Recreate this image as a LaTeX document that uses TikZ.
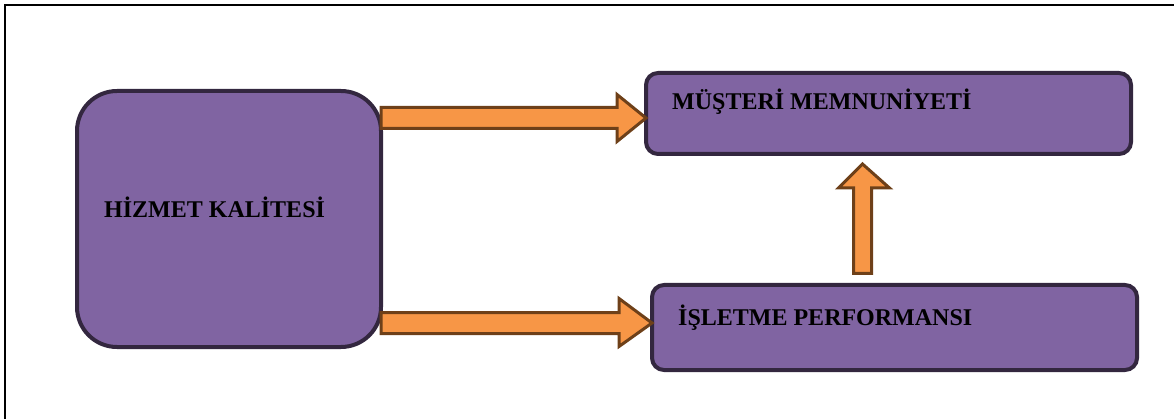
\documentclass[tikz,border=0pt]{standalone}
\usepackage{fontspec}
\setmainfont{Liberation Serif}
\definecolor{boxfill}{HTML}{8064A2}
\definecolor{boxline}{HTML}{33273F}
\definecolor{arrfill}{HTML}{F79646}
\definecolor{arrline}{HTML}{6E4019}
\tikzset{
  box/.style={draw=boxline, fill=boxfill, line width=4pt, inner sep=0pt, outer sep=0pt},
  blockarrow/.style={draw=arrline, fill=arrfill, line width=3pt, line join=miter},
  lbl/.style={font=\fontsize{24}{28}\selectfont\bfseries, inner sep=0pt, anchor=base west},
}
\begin{document}
\begin{tikzpicture}[x=1pt,y=-1pt]
\useasboundingbox (0,0) rectangle (1174,419);
% frame
\draw[line width=2pt] (4.5,419) coordinate (f1) -- (4.5,5.5) coordinate (f2) -- (1174,5.5) coordinate (f3);
% boxes
\node[box, rounded corners=40pt, minimum width=304pt, minimum height=256pt, anchor=north west] (hk) at (77,91) {};
\node[box, rounded corners=12pt, minimum width=485pt, minimum height=81pt, anchor=north west] (mm) at (646,73) {};
\node[box, rounded corners=12pt, minimum width=485pt, minimum height=85pt, anchor=north west] (ip) at (652,285) {};
% labels
\node[lbl] (t1) at (104,218) {HİZMET KALİTESİ};
\node[lbl] (t2) at (672,110) {MÜŞTERİ MEMNUNİYETİ};
\node[lbl] (t3) at (678,325) {İŞLETME PERFORMANSI};
% arrows
\draw[blockarrow] (hk.east |- 0,107.5) -- (617,107.5) -- (617,94.5) -- (mm.west |- 0,118) -- (617,141.5) -- (617,128.5) -- (hk.east |- 0,128.5) -- cycle;
\draw[blockarrow] (hk.east |- 0,312.5) -- (619,312.5) -- (619,298.5) -- (ip.west |- 0,323) -- (619,346.5) -- (619,333.5) -- (hk.east |- 0,333.5) -- cycle;
\draw[blockarrow] (853.5,273.5) -- (853.5,188) -- (838.5,188) -- (862.5,164) -- (889.5,188) -- (871.5,188) -- (871.5,273.5) -- cycle;
\end{tikzpicture}
\end{document}
